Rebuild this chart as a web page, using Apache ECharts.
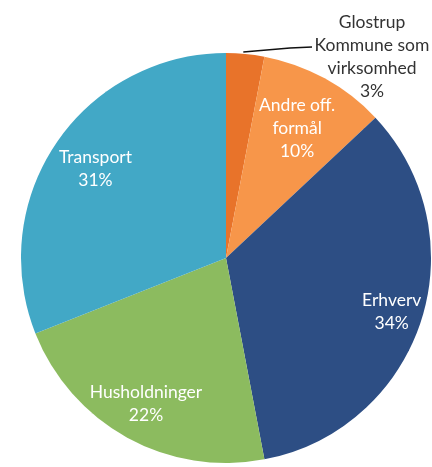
<!DOCTYPE html>
<html>
<head>
<meta charset="utf-8">
<script src="https://cdn.jsdelivr.net/npm/echarts@6/dist/echarts.min.js"></script>
<style>
  html, body { margin: 0; padding: 0; background: #fff; }
  #chart { width: 432px; height: 467px; }
</style>
</head>
<body>
<div id="chart"></div>
<script>
// data, clockwise from 12 o'clock
const categories = ["Glostrup\nKommune som\nvirksomhed", "Andre off.\nformål", "Erhverv", "Husholdninger", "Transport"];
const shares = [3, 10, 34, 22, 31];
const colors = ["#E8732A", "#F7964A", "#2D4E84", "#8CBB5F", "#42A8C6"];
// where the inside labels sit, as a fraction of the radius
const labelRadius = [0, 0.72, 0.85, 0.81, 0.77];

const cx = 226, cy = 258, R = 205;
const total = shares.reduce((a, b) => a + b, 0);

// mid angle of each slice (radians, clockwise from top)
const midAngles = [];
let acc = 0;
shares.forEach((v) => {
  midAngles.push(((acc + v / 2) / total) * Math.PI * 2);
  acc += v;
});

const chart = echarts.init(document.getElementById("chart"));
chart.setOption({
  animation: false,
  backgroundColor: "#fff",
  series: [
    {
      type: "pie",
      center: [cx, cy],
      radius: [0, R],
      startAngle: 90,
      clockwise: true,
      avoidLabelOverlap: false,
      emphasis: { disabled: true },
      itemStyle: { borderWidth: 0 },
      label: {
        position: "inside",
        formatter: "{b}\n{c}%",
        color: "#fff",
        fontFamily: "Lato",
        fontSize: 17.5,
        lineHeight: 23,
        align: "center",
      },
      data: categories.map((name, i) => {
        const item = { name: name, value: shares[i], itemStyle: { color: colors[i] } };
        if (i === 0) {
          item.label = { position: "outside", color: "#333" };
          item.labelLine = { show: true, lineStyle: { color: "#111", width: 1.5 } };
        }
        return item;
      }),
      labelLayout: function (p) {
        const i = p.dataIndex;
        const a = midAngles[i];
        if (i === 0) {
          const sx = cx + R * Math.sin(a) - 2;
          const sy = cy - R * Math.cos(a) - 2;
          return {
            x: 372,
            y: 57,
            align: "center",
            verticalAlign: "middle",
            labelLinePoints: [[sx, sy], [290, 48], [312, 47]],
          };
        }
        const r = R * labelRadius[i];
        return {
          x: cx + r * Math.sin(a),
          y: cy - r * Math.cos(a),
          align: "center",
          verticalAlign: "middle",
        };
      },
    },
  ],
});
</script>
</body>
</html>
